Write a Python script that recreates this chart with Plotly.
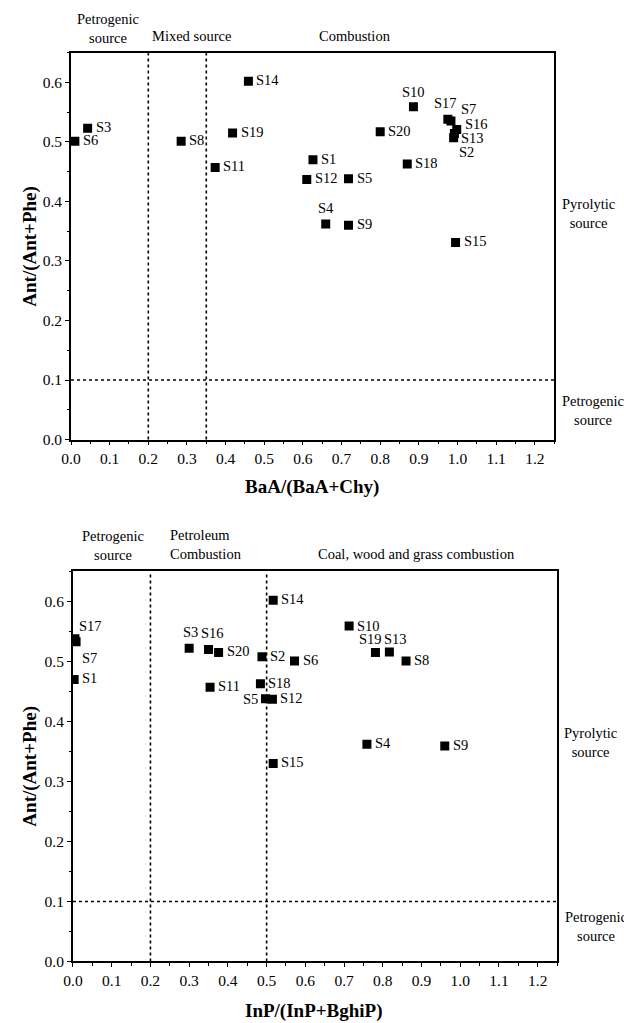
import plotly.graph_objects as go

# ---------------- Data ----------------
# Top chart: BaA/(BaA+Chy) vs Ant/(Ant+Phe)
top_samples = ["S1", "S2", "S3", "S4", "S5", "S6", "S7", "S8", "S9", "S10",
               "S11", "S12", "S13", "S14", "S15", "S16", "S17", "S18", "S19", "S20"]
top_x = [0.626, 0.990, 0.043, 0.659, 0.718, 0.010, 0.983, 0.285, 0.718, 0.886,
         0.373, 0.610, 0.992, 0.459, 0.995, 0.998, 0.975, 0.870, 0.418, 0.800]
top_y = [0.470, 0.507, 0.523, 0.362, 0.438, 0.501, 0.535, 0.501, 0.360, 0.559,
         0.457, 0.437, 0.514, 0.602, 0.331, 0.521, 0.538, 0.463, 0.515, 0.517]

# Bottom chart: InP/(InP+BghiP) vs Ant/(Ant+Phe)
bot_samples = top_samples
bot_x = [0.003, 0.488, 0.300, 0.759, 0.497, 0.572, 0.008, 0.860, 0.960, 0.713,
         0.354, 0.515, 0.817, 0.517, 0.517, 0.350, 0.005, 0.484, 0.781, 0.376]
bot_y = [0.470, 0.508, 0.522, 0.362, 0.438, 0.501, 0.533, 0.501, 0.359, 0.559,
         0.457, 0.437, 0.516, 0.602, 0.330, 0.520, 0.538, 0.463, 0.515, 0.515]

x_ticks = [0.0, 0.1, 0.2, 0.3, 0.4, 0.5, 0.6, 0.7, 0.8, 0.9, 1.0, 1.1, 1.2]
y_ticks = [0.0, 0.1, 0.2, 0.3, 0.4, 0.5, 0.6]
top_vlines = [0.2, 0.35]
bot_vlines = [0.2, 0.5]
hline_y = 0.1

# label placement (xanchor, yanchor, xshift, yshift); default is right
top_label_pos = {
    "S10": ("center", "bottom", 0, 5),
    "S4": ("center", "bottom", 0, 6),
    "S17": ("center", "bottom", -2, 6),
    "S7": ("left", "bottom", 8, 2),
    "S16": ("left", "middle", 6, 5),
    "S13": ("left", "middle", 5, -4),
    "S2": ("left", "top", 3, -4),
}
bot_label_pos = {
    "S17": ("left", "bottom", 2, 3),
    "S7": ("left", "top", 4, -6),
    "S3": ("center", "bottom", 1, 6),
    "S16": ("center", "bottom", 4, 6),
    "S19": ("center", "bottom", -5, 3),
    "S13": ("center", "bottom", 6, 3),
    "S5": ("right", "middle", -5, 0),
    "S10": ("left", "middle", 6, 0),
}

FONT = "Liberation Serif"

fig = go.Figure()

# domains in pixel fractions (figure 624 x 1023, no margins)
W, H = 624, 1023
top_dom_x = [62 / W, 553 / W]
top_dom_y = [1 - 443 / H, 1 - 53 / H]
bot_dom_x = [64 / W, 556 / W]
bot_dom_y = [1 - 969 / H, 1 - 576 / H]

fig.add_trace(go.Scatter(x=top_x, y=top_y, mode="markers",
                         marker=dict(symbol="square", size=9, color="black"),
                         xaxis="x", yaxis="y", hoverinfo="skip", showlegend=False))
fig.add_trace(go.Scatter(x=bot_x, y=bot_y, mode="markers",
                         marker=dict(symbol="square", size=9, color="black"),
                         xaxis="x2", yaxis="y2", hoverinfo="skip", showlegend=False))

annotations = []


def add_labels(names, xs, ys, pos, xref, yref):
    for n, xv, yv in zip(names, xs, ys):
        xa, ya, xs_, ys_ = pos.get(n, ("left", "middle", 6, 1))
        annotations.append(dict(x=xv, y=yv, xref=xref, yref=yref, text=n,
                                showarrow=False, xanchor=xa, yanchor=ya,
                                xshift=xs_, yshift=ys_,
                                font=dict(family=FONT, size=14.5, color="black")))


add_labels(top_samples, top_x, top_y, top_label_pos, "x", "y")
add_labels(bot_samples, bot_x, bot_y, bot_label_pos, "x2", "y2")

shapes = []
dash_line = dict(color="black", width=1.6, dash="3px,3px")
for v in top_vlines:
    shapes.append(dict(type="line", xref="x", yref="y domain", x0=v, x1=v, y0=0, y1=1, line=dash_line))
shapes.append(dict(type="line", xref="x domain", yref="y", x0=0, x1=1, y0=hline_y, y1=hline_y, line=dash_line))
for v in bot_vlines:
    shapes.append(dict(type="line", xref="x2", yref="y2 domain", x0=v, x1=v, y0=0, y1=1, line=dash_line))
shapes.append(dict(type="line", xref="x2 domain", yref="y2", x0=0, x1=1, y0=hline_y, y1=hline_y, line=dash_line))


def paper_text(txt, px, py, size=14.5, xanchor="center", align="center"):
    annotations.append(dict(x=px / W, y=1 - py / H, xref="paper", yref="paper",
                            text=txt, showarrow=False, xanchor=xanchor, yanchor="middle",
                            align=align,
                            font=dict(family=FONT, size=size, color="black")))


# region labels top
paper_text("Petrogenic<br>source", 100, 29)
paper_text("Mixed source", 184, 36)
paper_text("Combustion", 351, 36)
paper_text("Pyrolytic<br>source", 588, 215)
paper_text("Petrogenic<br>source", 593, 414)
# region labels bottom
paper_text("Petrogenic<br>source", 105, 550)
paper_text("Petroleum<br>Combustion", 161, 549, xanchor="left", align="left")
paper_text("Coal, wood and grass combustion", 413, 558)
paper_text("Pyrolytic<br>source", 590, 748)
paper_text("Petrogenic<br>source", 596, 934)

# axis titles
paper_text("<b>BaA/(BaA+Chy)</b>", 307, 491, size=19)
paper_text("<b>InP/(InP+BghiP)</b>", 309, 1019, size=19)
for cy in [248, 772]:
    annotations.append(dict(x=20 / W, y=1 - cy / H, xref="paper", yref="paper",
                            text="<b>Ant/(Ant+Phe)</b>", showarrow=False, textangle=-90,
                            xanchor="center", yanchor="middle",
                            font=dict(family=FONT, size=19, color="black")))

axis_common = dict(showgrid=False, zeroline=False, showline=True, linecolor="black",
                   linewidth=1.8, mirror=True, ticks="outside", ticklen=4, tickwidth=1.3,
                   tickcolor="black", tickfont=dict(family=FONT, size=15.5, color="black"),
                   minor=dict(ticks="outside", ticklen=2.5, tickwidth=1.2, tickcolor="black", dtick=0.05),
                   tickformat=".1f")

fig.update_layout(
    width=W, height=H,
    margin=dict(l=0, r=0, t=0, b=0),
    paper_bgcolor="white", plot_bgcolor="white",
    showlegend=False,
    font=dict(family=FONT, color="black"),
    xaxis=dict(domain=top_dom_x, range=[0, 1.25], tickvals=x_ticks, anchor="y", **axis_common),
    yaxis=dict(domain=top_dom_y, range=[0, 0.65], tickvals=y_ticks, anchor="x", **axis_common),
    xaxis2=dict(domain=bot_dom_x, range=[0, 1.25], tickvals=x_ticks, anchor="y2", **axis_common),
    yaxis2=dict(domain=bot_dom_y, range=[0, 0.65], tickvals=y_ticks, anchor="x2", **axis_common),
    annotations=annotations,
    shapes=shapes,
)

fig.write_html("out.html", config={"displayModeBar": False},
               post_script="document.body.style.margin='0';document.body.style.overflow='hidden';")
